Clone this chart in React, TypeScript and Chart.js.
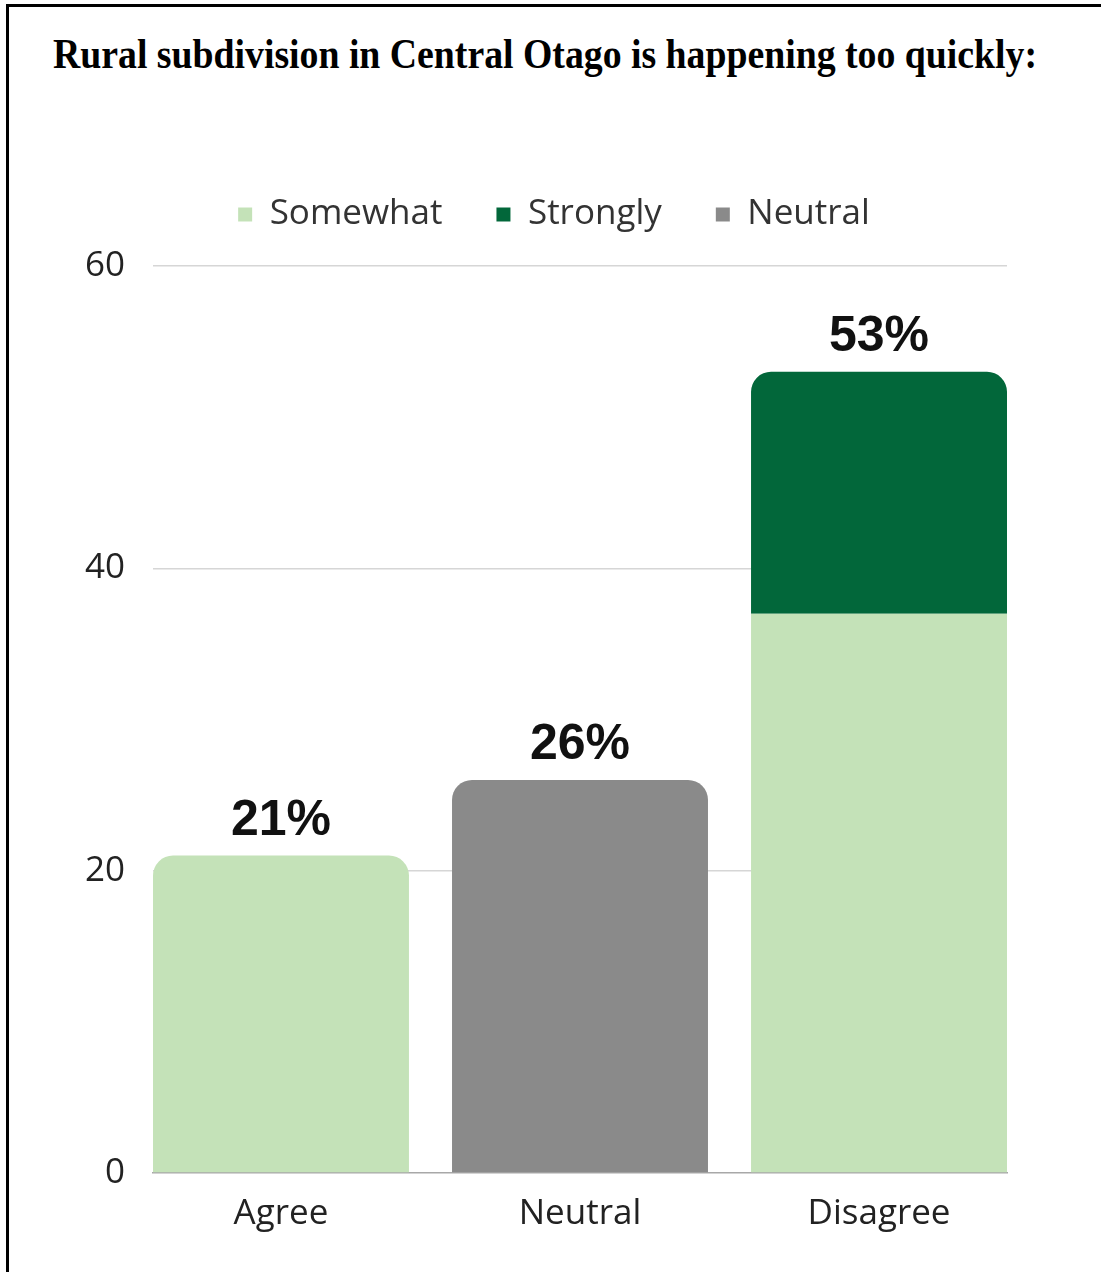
import React, { useEffect, useRef } from "react";
import { Chart, registerables } from "chart.js";

Chart.register(...registerables);

const TITLE = "Rural subdivision in Central Otago is happening too quickly:";
const categories = ["Agree", "Neutral", "Disagree"];
const seriesNames = ["Somewhat", "Strongly", "Neutral"];
const somewhat: (number | null)[] = [21, null, 37];
const strongly: (number | null)[] = [null, null, 16];
const neutral: (number | null)[] = [null, 26, null];
const yTickValues = [0, 20, 40, 60];
const seriesColors = ["#c4e2b8", "#02673a", "#8a8a8a"];

const allSeries = [somewhat, strongly, neutral];

const toPoints = (arr: (number | null)[]) =>
  arr
    .map((v, i) => (v == null ? null : { x: i, y: v }))
    .filter((p) => p !== null) as { x: number; y: number }[];

const isTopOfStack = (seriesIdx: number, catIdx: number) => {
  for (let s = seriesIdx + 1; s < allSeries.length; s++) {
    if (allSeries[s][catIdx] != null) return false;
  }
  return true;
};

const totalsPlugin = {
  id: "totals",
  afterDatasetsDraw(chart: any) {
    const { ctx } = chart;
    const xs = chart.scales.x;
    const ys = chart.scales.y;
    ctx.save();
    ctx.font = 'bold 50px "Liberation Sans", Arial, sans-serif';
    ctx.fillStyle = "#111111";
    ctx.textAlign = "center";
    ctx.textBaseline = "alphabetic";
    categories.forEach((_, i) => {
      const total = allSeries.reduce((s, a) => s + (a[i] ?? 0), 0);
      ctx.fillText(`${total}%`, xs.getPixelForValue(i), ys.getPixelForValue(total) - 21);
    });
    ctx.restore();
  },
};

const legendGapPlugin = {
  id: "legendGap",
  beforeLayout(chart: any) {
    const lg = chart.legend;
    if (lg && !lg.__gapPatched) {
      const orig = lg.fit.bind(lg);
      lg.fit = function () {
        orig();
        this.height += 24;
      };
      lg.__gapPatched = true;
    }
  },
};

export default function App() {
  const canvasRef = useRef<HTMLCanvasElement>(null);
  const titleRef = useRef<HTMLDivElement>(null);

  useEffect(() => {
    const t = titleRef.current;
    if (t) {
      t.style.transform = "none";
      const w = t.getBoundingClientRect().width;
      if (w > 0) t.style.transform = `scaleX(${984 / w})`;
    }
    if (!canvasRef.current) return;
    Chart.defaults.font.family = "'Open Sans', 'Noto Sans', sans-serif";
    const chart = new Chart(canvasRef.current, {
      type: "bar",
      data: {
        datasets: allSeries.map((arr, si) => ({
          label: seriesNames[si],
          data: toPoints(arr),
          backgroundColor: seriesColors[si],
          borderWidth: 0,
          borderSkipped: "start",
          categoryPercentage: 1,
          barPercentage: 0.856,
          borderRadius: (c: any) => {
            const idx = c.raw ? c.raw.x : 0;
            const r = isTopOfStack(si, idx) ? 20 : 0;
            return { topLeft: r, topRight: r, bottomLeft: 0, bottomRight: 0 };
          },
        })),
      },
      options: {
        animation: false,
        responsive: false,
        maintainAspectRatio: false,
        layout: { padding: { left: 83, right: 76, top: 0, bottom: 17 } },
        plugins: {
          tooltip: { enabled: false },
          legend: {
            display: true,
            position: "top",
            labels: {
              boxWidth: 14,
              boxHeight: 14,
              padding: 54,
              color: "#333333",
              font: { size: 35, family: "'Open Sans', sans-serif" },
            },
          },
        },
        scales: {
          x: {
            type: "linear",
            stacked: true,
            offset: false,
            min: -0.428,
            max: 2.428,
            z: 1,
            afterBuildTicks: (s: any) => {
              s.ticks = categories.map((_, i) => ({ value: i }));
            },
            grid: { display: true, color: "rgba(0,0,0,0)", drawTicks: false, offset: false },
            border: { display: true, color: "#a8a8a8", width: 1.5 },
            ticks: {
              padding: 20,
              color: "#222222",
              font: { size: 35 },
              autoSkip: false,
              maxRotation: 0,
              callback: (v: any) => categories[Math.round(Number(v))] ?? "",
            },
          },
          y: {
            type: "linear",
            stacked: true,
            min: yTickValues[0],
            max: yTickValues[yTickValues.length - 1],
            afterBuildTicks: (s: any) => {
              s.ticks = yTickValues.map((v) => ({ value: v }));
            },
            afterFit: (s: any) => {
              s.width = 70;
            },
            grid: {
              color: (c: any) => (c.tick && c.tick.value === 0 ? "rgba(0,0,0,0)" : "#d6d6d6"),
              lineWidth: 1.5,
              drawTicks: false,
            },
            border: { display: false },
            ticks: { padding: 28, color: "#222222", font: { size: 35 } },
          },
          yR: {
            type: "linear",
            position: "right",
            display: true,
            grid: { display: false },
            border: { display: false },
            ticks: { display: false },
            afterFit: (s: any) => {
              s.width = 18;
            },
          },
        },
      },
      plugins: [legendGapPlugin, totalsPlugin],
    } as any);
    return () => chart.destroy();
  }, []);

  return (
    <div
      style={{
        position: "absolute",
        left: 0,
        top: 0,
        width: 1101,
        height: 1272,
        background: "#ffffff",
        overflow: "hidden",
      }}
    >
      <div
        style={{
          position: "absolute",
          left: 6,
          top: 4,
          width: 1300,
          height: 1400,
          borderLeft: "3px solid #000",
          borderTop: "3px solid #000",
        }}
      />
      <div
        ref={titleRef}
        style={{
          position: "absolute",
          left: 53,
          top: 33,
          display: "inline-block",
          whiteSpace: "nowrap",
          fontFamily: "'Liberation Serif', 'Times New Roman', serif",
          fontWeight: "bold",
          fontSize: 42,
          lineHeight: "42px",
          color: "#000",
          transformOrigin: "left center",
        }}
      >
        {TITLE}
      </div>
      <canvas
        ref={canvasRef}
        width={1101}
        height={1129}
        style={{ position: "absolute", left: 0, top: 143, width: 1101, height: 1129 }}
      />
    </div>
  );
}
